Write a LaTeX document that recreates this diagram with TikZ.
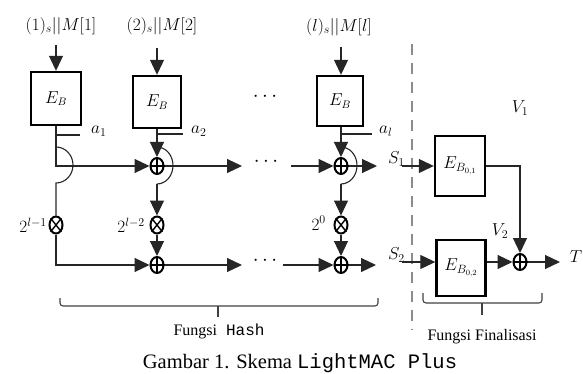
\documentclass[tikz,border=0pt]{standalone}
\usepackage{fontspec}
\setmainfont{Liberation Serif}
\setmonofont{Liberation Mono}
\usetikzlibrary{arrows.meta,shapes.geometric}
\begin{document}
\begin{tikzpicture}[x=1pt,y=-1pt,
  conn/.style={line width=1.1pt, draw=black!85},
  arr/.style={conn, -{Triangle[length=15pt,width=14pt]}},
  blk/.style={draw, line width=2.4pt, minimum width=48pt, minimum height=52pt, inner sep=0pt, font=\fontsize{16}{19}\selectfont},
  xo/.style={ellipse, draw, line width=2pt, minimum width=13pt, minimum height=16pt, inner sep=0pt},
  crs/.style={line width=1.4pt},
  lab/.style={font=\fontsize{17}{20}\selectfont, inner sep=0pt},
  dotsn/.style={font=\fontsize{20}{22}\selectfont, inner sep=0pt},
  dashline/.style={draw=black!45, line width=2pt, dash pattern=on 11pt off 8pt},
  brc/.style={line width=1.1pt, draw=black!75, rounded corners=3pt},
  txt/.style={font=\fontsize{16}{19}\selectfont, inner sep=0pt, anchor=base},
]
\useasboundingbox (0,0) rectangle (583,374);

% input labels
\node[lab] (l1) at (61,26) {$(1)_s||M[1]$};
\node[lab] (l2) at (162,26) {$(2)_s||M[2]$};
\node[lab] (l3) at (339,27) {$(l)_s||M[l]$};

% blocks
\node[blk, minimum width=50pt, minimum height=53pt] (b1) at (56,98.5) {$E_B$};
\node[blk] (b2) at (157,102) {$E_B$};
\node[blk, minimum width=46pt, minimum height=50pt] (b3) at (340,101) {$E_B$};
\node[dotsn] (d0) at (265,97) {$\cdots$};

\coordinate (i1) at (56,45);
\coordinate (i2) at (157,48);
\coordinate (i3) at (341,47);
\draw[arr] (i1) -- (b1.north);
\draw[arr] (i2) -- (b2.north);
\draw[arr] (i3) -- (i3 |- b3.north);

% a ticks
\draw[conn] (56,135) -- (80,135);
\draw[conn] (157,134) -- (183,134);
\draw[conn] (341,134) -- (372,134);
\node[lab, anchor=west] (a1) at (91,131) {$a_1$};
\node[lab, anchor=west] (a2) at (191,131) {$a_2$};
\node[lab, anchor=west] (a3) at (379,131) {$a_l$};

% xor / mult nodes
\node[xo] (p2) at (157,166) {};
\node[xo] (p3) at (341,166) {};
\node[xo] (q2) at (157,265) {};
\node[xo] (q3) at (341,265) {};
\node[xo, minimum height=17pt] (m1) at (56,225) {};
\node[xo, minimum height=17pt] (m2) at (157,225) {};
\node[xo, minimum height=17pt] (m3) at (341,225) {};
\foreach \n in {p2,p3,q2,q3}{
  \draw[crs] (\n.north) -- (\n.south) (\n.west) -- (\n.east);
}
\foreach \n in {m1,m2,m3}{
  \draw[crs] (\n.north east) -- (\n.south west) (\n.north west) -- (\n.south east);
}

% 2^ labels
\node[lab, anchor=east] (e1) at (47,225) {$2^{l-1}$};
\node[lab, anchor=east] (e2) at (145,225) {$2^{l-2}$};
\node[lab, anchor=east] (e3) at (326,223) {$2^0$};

% column 1
\draw[arr] (b1.south) |- (p2);
\coordinate (h1) at (56,147);
\draw[conn] (h1) arc[start angle=-90, end angle=90, x radius=17, y radius=18] -- (m1);
\draw[arr] (m1) |- (q2);

% column 2
\draw[arr] (b2.south) -- (p2);
\coordinate (h2) at (157,147);
\draw[conn] (h2) arc[start angle=-90, end angle=90, x radius=16, y radius=18.5] coordinate (h2e);
\draw[arr] (h2e) -- (m2);
\draw[arr] (m2) -- (q2);

% column l
\draw[arr] (i3 |- b3.south) -- (p3);
\coordinate (h3) at (341,147);
\draw[conn] (h3) arc[start angle=-90, end angle=90, x radius=16, y radius=18.5] coordinate (h3e);
\draw[arr] (h3e) -- (m3);
\draw[arr] (m3) -- (q3);

% rows
\coordinate (t1) at (242,166);
\coordinate (t2) at (242,265);
\coordinate (s1) at (291,166);
\coordinate (s2) at (283,265);
\coordinate (u1) at (377,166);
\coordinate (u2) at (376,265);
\node[dotsn] (d1) at (266,162) {$\cdots$};
\node[dotsn] (d2) at (265,261) {$\cdots$};
\draw[arr] (p2) -- (t1);
\draw[arr] (q2) -- (t2);
\draw[arr] (s1) -- (p3);
\draw[arr] (s2) -- (q3);
\draw[arr] (p3) -- (u1);
\draw[arr] (q3) -- (u2);

% dashed separator
\draw[dashline] (412,44) -- (412,330);

% finalisation
\node[lab, anchor=east, font=\fontsize{18}{21}\selectfont] (S1) at (405,159) {$S_1$};
\node[lab, anchor=east, font=\fontsize{18}{21}\selectfont] (S2) at (405,255) {$S_2$};
\node[blk, minimum width=50pt, minimum height=60pt, font=\fontsize{17}{20}\selectfont] (E1) at (460,166) {$E_{B_{0,1}}$};
\node[blk, minimum width=49pt, minimum height=56pt, font=\fontsize{17}{20}\selectfont] (E2) at (461,268) {$E_{B_{0,2}}$};
\node[xo] (pf) at (520,262) {};
\draw[crs] (pf.north) -- (pf.south) (pf.west) -- (pf.east);
\coordinate (v1) at (402,166);
\coordinate (v2) at (402,262);
\coordinate (w) at (560,262);
\draw[arr] (v1) -- (E1.west);
\draw[arr] (v2) -- (v2 -| E2.west);
\draw[arr] (E1.east) -| (pf);
\draw[arr] (E2.east |- pf) -- (pf);
\draw[arr] (pf) -- (w);
\node[lab, font=\fontsize{18}{21}\selectfont] (V1) at (520,108) {$V_1$};
\node[lab, font=\fontsize{18}{21}\selectfont] (V2) at (500,231) {$V_2$};
\node[lab, font=\fontsize{18}{21}\selectfont] (T) at (576,257) {$T$};

% braces
\draw[brc] (60,298) -- (60,306) -- (378,306) -- (378,298);
\draw[brc] (218,306) -- (218,317);
\draw[brc] (423,293) -- (423,303) -- (542,303) -- (542,293);
\draw[brc] (482,303) -- (482,315);

\node[txt] (fh) at (219,335) {Fungsi\hspace{9pt}\texttt{Hash}};
\node[txt] (ff) at (482,340) {Fungsi Finalisasi};
\node[txt, font=\fontsize{20.5}{24}\selectfont] (cap) at (300,368) {Gambar 1. Skema \texttt{LightMAC Plus}};
\end{tikzpicture}
\end{document}
